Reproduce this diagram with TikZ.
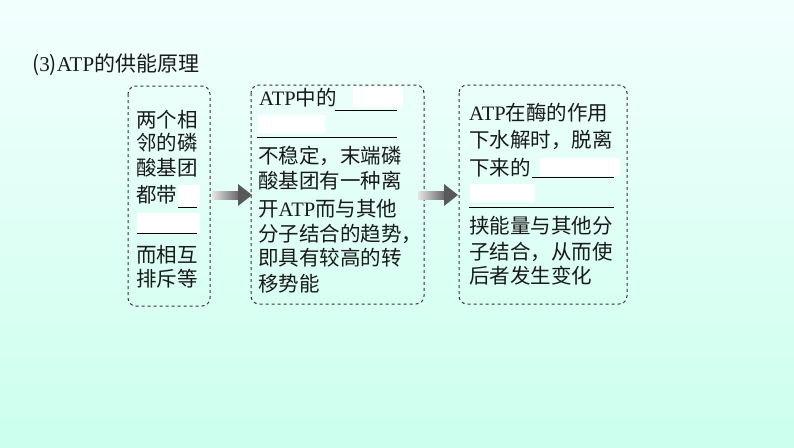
\documentclass[tikz,border=0pt]{standalone}
\usepackage{fontspec}
\setmainfont{Noto Sans CJK SC}
\newfontfamily\lat{Liberation Serif}
\begin{document}
\begin{tikzpicture}[x=1pt,y=-1pt,
  box/.style={draw=black!80,dashed,rounded corners=8pt,line width=1pt},
  tx/.style={anchor=west,inner sep=0pt,font=\fontsize{20.5}{22}\selectfont,text=black!90},
  wr/.style={fill=white,draw=none},
  ul/.style={line width=0.7pt,black}]
\useasboundingbox (0,0) rectangle (794,447);
\shade[top color=green!10!cyan!5!white,bottom color=green!35!cyan!20!white] (0,0) rectangle (794,447);
\node[tx,font=\fontsize{21}{23}\selectfont] (title) at (32,65) {({\lat 3}){\lat ATP}的供能原理};
% boxes
\draw[box] (128,86) rectangle (210,306);
\draw[box] (251,85) rectangle (424,304);
\draw[box] (459,85) rectangle (627,304);
% box1
\node[tx] (a1) at (136,120) {两个相};
\node[tx] (a2) at (136,143) {邻的磷};
\node[tx] (a3) at (136,168) {酸基团};
\node[tx] (a4) at (136,195) {都带};
\fill[wr] (178,185) rectangle (200,207);
\draw[ul] (178,207) -- (197,207);
\fill[wr] (137,213) rectangle (200,233);
\draw[ul] (137,233) -- (197,233);
\node[tx] (a5) at (136,255) {而相互};
\node[tx] (a6) at (136,279) {排斥等};
% box2
\node[tx] (c1) at (259,98) {{\lat ATP}中的};
\fill[wr] (353,87) rectangle (403,107);
\draw[ul] (335,110) -- (397,110);
\fill[wr] (258,115) rectangle (325,133);
\draw[ul] (257,137) -- (397,137);
\node[tx] (c2) at (258,156) {不稳定，末端磷};
\node[tx] (c3) at (258,181) {酸基团有一种离};
\node[tx] (c4) at (258,209) {开{\lat ATP}而与其他};
\node[tx] (c5) at (258,234) {分子结合的趋势，};
\node[tx] (c6) at (258,258) {即具有较高的转};
\node[tx] (c7) at (258,284) {移势能};
% box3
\node[tx] (d1) at (469,113) {{\lat ATP}在酶的作用};
\node[tx] (d2) at (469,140) {下水解时，脱离};
\node[tx] (d3) at (469,168) {下来的};
\fill[wr] (540,158) rectangle (620,176);
\draw[ul] (532,177) -- (614,177);
\fill[wr] (470,184) rectangle (535,202);
\draw[ul] (469,207) -- (614,207);
\node[tx] (d4) at (469,226) {挟能量与其他分};
\node[tx] (d5) at (469,252) {子结合，从而使};
\node[tx] (d6) at (469,276) {后者发生变化};
% arrows
\shade[left color=black!10,right color=black!60] (212,191) rectangle (239,199);
\fill[black!65] (238,184) -- (252,195) -- (238,206) -- cycle;
\shade[left color=black!10,right color=black!60] (418,191) rectangle (445,199);
\fill[black!65] (444,184) -- (458,195) -- (444,206) -- cycle;
\end{tikzpicture}
\end{document}
